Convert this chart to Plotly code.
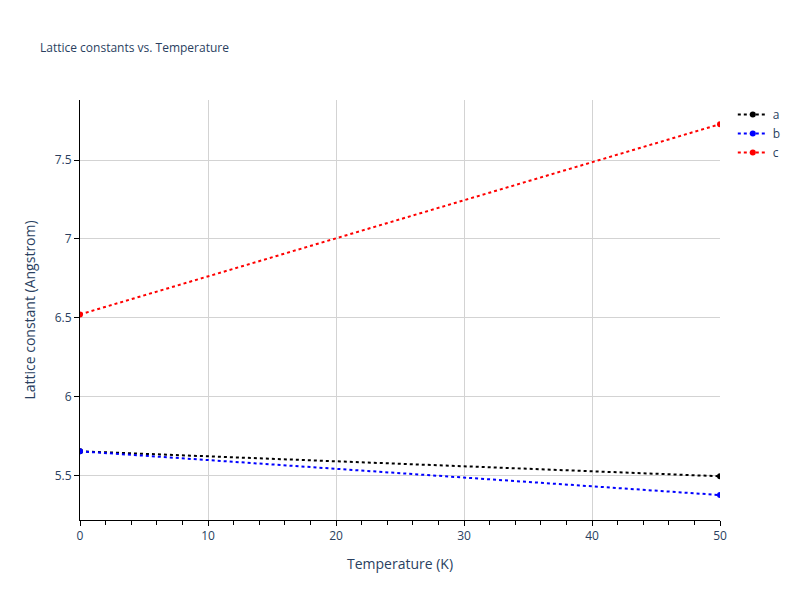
import plotly.graph_objects as go

temperature = [0, 50]
a_vals = [5.655, 5.497]
b_vals = [5.655, 5.378]
c_vals = [6.522, 7.727]

fig = go.Figure()
for name, vals, col in [("a", a_vals, "black"), ("b", b_vals, "blue"), ("c", c_vals, "red")]:
    fig.add_trace(go.Scatter(x=temperature, y=vals, name=name, mode="lines+markers",
                             line=dict(color=col, dash="dot", width=2), marker=dict(color=col, size=6)))

axis_style = dict(showline=True, linecolor="black", ticks="outside", tickcolor="black",
                  gridcolor="lightgray", zeroline=False)
fig.update_layout(
    width=800, height=600, plot_bgcolor="white", paper_bgcolor="white",
    title=dict(text="Lattice constants vs. Temperature", x=0.04, y=0.94, font=dict(size=12)),
    margin=dict(l=72, r=88, t=92, b=88),
)
fig.update_xaxes(title_text="Temperature (K)", range=[0, 50],
                 minor=dict(ticks="outside", tickcolor="black", ticklen=4, showgrid=False), **axis_style)
fig.update_yaxes(title_text="Lattice constant (Angstrom)", range=[5.22, 7.88], **axis_style)
fig.write_html("out.html")
